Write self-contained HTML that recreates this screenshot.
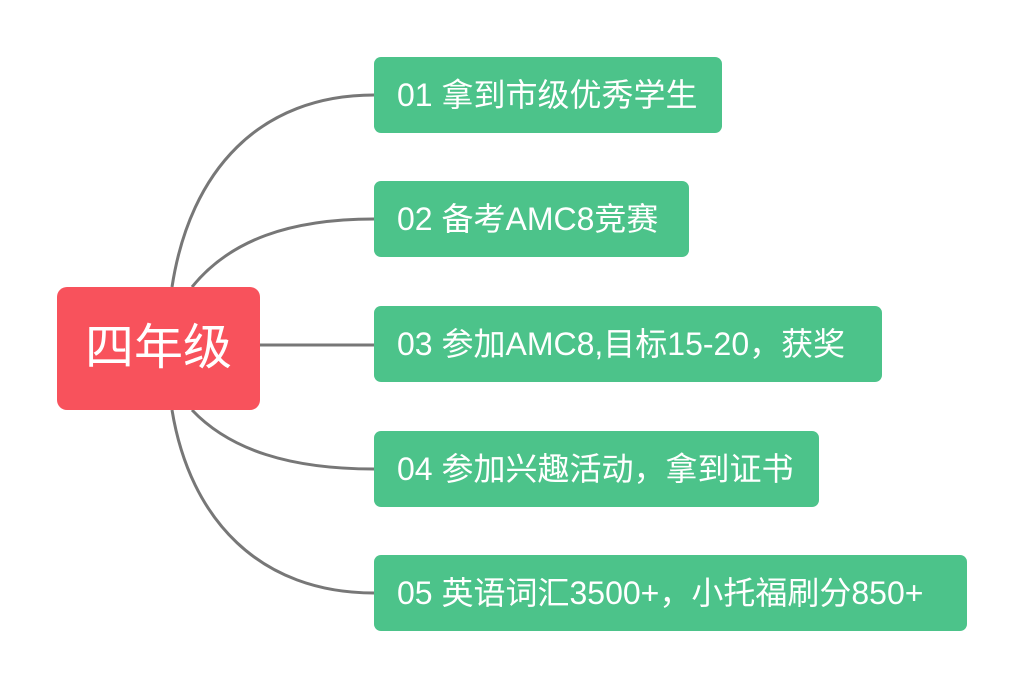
<!DOCTYPE html>
<html><head><meta charset="utf-8"><style>
body{margin:0;width:1024px;height:687px;background:#fff;position:relative;overflow:hidden;font-family:"Liberation Sans","Noto Sans CJK SC",sans-serif}
.b{position:absolute;left:374px;height:76px;background:#4cc38a;border-radius:7px;color:#fff;font-size:32px;line-height:76px;padding-left:23px;box-sizing:border-box;white-space:nowrap}
.r{position:absolute;left:57px;top:287px;width:203px;height:123px;background:#f8525c;border-radius:10px;color:#fff;font-size:49px;line-height:123px;text-align:center}
svg{position:absolute;left:0;top:0}
</style></head><body>
<svg width="1024" height="687"><g fill="none" stroke="#777" stroke-width="3">
<path d="M172 287 C190 170 260 95 374 95"/>
<path d="M192 287 C230 240 290 219 374 219"/>
<path d="M260 345 L374 345"/>
<path d="M192 410 C230 450 290 469 374 469"/>
<path d="M172 410 C190 520 260 593 374 593"/>
</g></svg>
<div class="r">四年级</div>
<div class="b" style="top:57px;width:348px">01 拿到市级优秀学生</div>
<div class="b" style="top:181px;width:315px">02 备考AMC8竞赛</div>
<div class="b" style="top:306px;width:508px">03 参加AMC8,目标15-20，获奖</div>
<div class="b" style="top:431px;width:445px">04 参加兴趣活动，拿到证书</div>
<div class="b" style="top:555px;width:593px">05 英语词汇3500+，小托福刷分850+</div>
</body></html>
